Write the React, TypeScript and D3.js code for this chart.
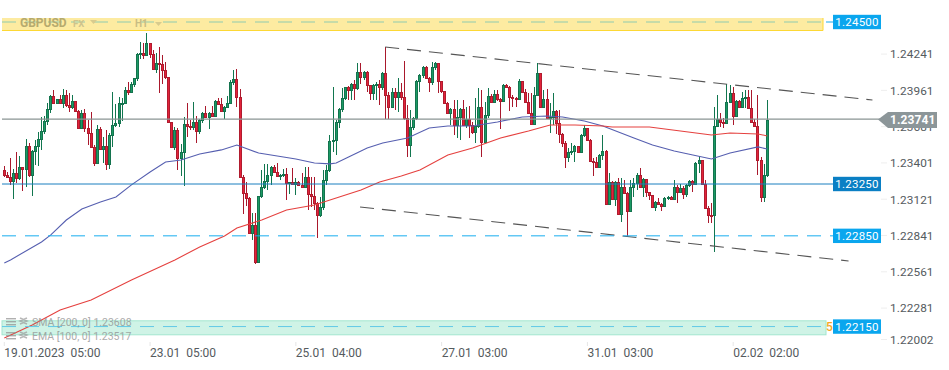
import React from "react";
import * as d3 from "d3";

const firstOpen = 123358;
const closes = [123320,123307,123276,123337,123296,123379,123364,123541,123322,123503,123541,123595,123657,123734,123827,123929,123873,123904,123873,123935,123858,123847,123891,123814,123685,123796,123680,123642,123538,123415,123672,123523,123541,123405,123626,123703,123719,123873,123878,123975,123962,124019,124066,124253,124263,124248,124336,124253,124140,124180,124176,124130,124076,123725,123536,123667,123451,123497,123713,123698,123686,123729,123659,123744,123798,123767,123798,123775,123891,123868,123814,123844,123875,124037,124060,123922,123304,123181,123142,122872,122934,122648,123158,123227,123273,123320,123381,123343,123312,123320,123324,123258,123266,123250,123266,123243,123227,123304,123173,123158,123104,123011,123073,123281,123358,123582,123590,123729,123829,123914,123999,123975,124022,123991,124114,124076,124114,124014,123952,124014,124022,123999,124107,123937,123844,123960,123922,123960,123922,123760,123551,123690,123760,124045,124091,124153,124068,124037,124153,124184,124045,123968,123875,123798,123829,123705,123767,123829,123705,123752,123705,123651,123698,123844,123574,123783,123929,123883,123945,123906,123891,124014,123999,123922,123914,123906,124045,123960,123883,123798,123713,123937,124107,123844,123906,123760,123767,123814,123721,123636,123567,123459,123497,123505,123543,123497,123628,123682,123590,123428,123420,123381,123474,123505,123096,123266,123134,123266,123019,123227,123181,123042,123227,123258,123320,123227,123289,123189,123165,123073,123111,123096,123080,123142,123150,123134,123227,123189,123219,123173,123243,123273,123250,123412,123435,123250,123065,123011,123007,123698,123752,123729,123721,123883,123952,123775,123891,123844,123914,123922,123837,123729,123698,123435,123150,123320,123744];
const highs = [123389,123345,123449,123364,123500,123466,123384,123598,123564,123513,123590,123654,123765,123775,123878,123935,123975,123906,123935,123981,123975,123950,123937,123891,123819,123821,123827,123744,123808,123549,123705,123688,123615,123667,123642,123960,123868,123924,123916,124001,124040,124040,124068,124259,124348,124336,124418,124336,124284,124263,124310,124245,124192,124076,123729,123690,123682,123559,123767,123875,123744,123883,123775,123752,123806,123852,123806,123852,123898,123914,123914,123852,123929,124053,124130,124138,123983,123320,123266,123150,123026,123026,123158,123358,123405,123405,123389,123397,123412,123327,123366,123374,123266,123374,123296,123270,123335,123381,123381,123304,123304,123111,123150,123358,123397,123628,123999,123744,123837,123991,123999,124007,124030,124053,124184,124184,124122,124122,124014,124022,124037,124053,124114,124307,123960,123991,123991,124068,124030,124199,123860,123821,123767,124053,124099,124161,124161,124076,124192,124192,124184,124045,123968,123883,123837,123898,123898,123837,123898,123844,123852,123729,123914,123991,123975,123883,123991,123945,123975,123975,123914,124022,124022,124007,123937,123922,124060,124045,123983,123952,123952,123999,124184,124107,123975,123983,123875,123952,123821,123821,123644,123582,123528,123567,123551,123536,123636,123705,123682,123597,123451,123459,123482,123628,123513,123335,123273,123273,123296,123296,123281,123189,123281,123296,123335,123374,123296,123289,123173,123165,123119,123142,123104,123150,123158,123158,123281,123243,123250,123235,123250,123281,123281,123420,123466,123435,123281,123080,123104,123844,123937,123798,123760,124022,124014,123999,123898,123898,123960,123975,123975,123975,123752,123937,123459,123405,123898];
const lows = [123307,123294,123243,123137,123256,123281,123199,123229,123307,123160,123397,123389,123513,123636,123705,123796,123868,123868,123868,123834,123842,123808,123827,123808,123677,123677,123654,123551,123525,123389,123405,123523,123412,123358,123364,123538,123692,123692,123739,123898,123935,124006,124001,124047,124212,124212,124253,124220,124138,124107,123952,124022,124060,123721,123528,123513,123358,123312,123235,123613,123667,123667,123567,123636,123721,123763,123675,123771,123775,123860,123810,123752,123837,123875,124014,123844,123297,123019,123080,122868,122818,122633,122644,123142,123212,123204,123243,123339,123304,123281,123304,123127,123173,123243,123165,123239,123219,123219,123050,123073,123050,122833,122996,123050,123243,123343,123497,123474,123682,123806,123898,123898,123898,123898,123975,124022,124053,123960,123898,123898,123898,123860,123975,123752,123752,123837,123821,123806,123898,123744,123459,123459,123667,123744,123960,124068,124064,123960,124014,124130,123952,123952,123868,123794,123705,123628,123605,123590,123698,123682,123605,123636,123567,123682,123459,123574,123760,123875,123875,123891,123675,123883,123991,123814,123844,123844,123898,123952,123883,123790,123705,123705,123929,123837,123837,123752,123644,123705,123636,123567,123536,123374,123420,123474,123420,123490,123490,123613,123582,123420,123312,123374,123374,123435,123088,123088,123127,123080,123011,122957,123173,122849,123034,123150,123204,123219,123150,123150,123127,123065,123042,123088,123042,123073,123127,123127,123127,123104,123181,123134,123150,123227,123189,123243,123335,123243,123057,122949,122949,122726,123690,123690,123682,123721,123875,123705,123767,123837,123837,123837,123829,123721,123690,123320,123111,123111,123304];

const emaIdx = [0,2,12,15,20,25,31,36,41,47,52,57,63,70,75,82,88,94,100,105,107,111,117,122,130,137,143,151,159,167,175,180,187,193,203,209,216,222,228,234,243,246];
const emaVals = [122641,122664,122803,122857,122972,123057,123111,123150,123243,123343,123420,123435,123482,123513,123551,123489,123466,123443,123412,123405,123412,123459,123528,123567,123605,123682,123698,123698,123729,123767,123775,123767,123736,123698,123605,123551,123505,123474,123443,123489,123536,123520];
const smaIdx = [0,9,18,28,41,55,63,71,75,83,91,100,108,115,121,128,134,143,151,160,169,176,184,193,196,208,218,228,234,243,246];
const smaVals = [122062,122162,122278,122355,122510,122664,122764,122849,122911,122972,123050,123088,123150,123204,123266,123312,123358,123474,123528,123605,123659,123705,123705,123698,123690,123690,123659,123628,123644,123636,123621];

const upperTrendIdx = [122.8, 279.9];
const upperTrendVals = [124307, 123898];
const lowerTrendIdx = [114.7, 272.2];
const lowerTrendVals = [123073, 122656];

const priceTicks = [124241, 123961, 123681, 123401, 123121, 122841, 122561, 122281, 122002];
const timeTickIdx = [0, 47, 94, 141, 188, 235];
const timeTickLabels = ["19.01.2023  05:00", "23.01  05:00", "25.01  04:00", "27.01  03:00", "31.01  03:00", "02.02  02:00"];

const levelResistance = 124500;
const levelMid = 123250;
const levelSupport = 122850;
const levelBottom = 122150;
const lastPriceLine = 123750;
const lastPriceLabel = "1.23741";

const FONT = "Roboto, sans-serif";
const fmt = (v: number) => (v / 1e5).toFixed(5);

const x = d3.scaleLinear().domain([0, 246]).range([4.3, 767.3]);
const y = d3.scaleLinear().domain([124500, 120000]).range([22, 605.2]);

const toPath = (idx: number[], vals: number[]) =>
  d3.line<number>().x((d) => x(d)).y((_, i) => y(vals[i])).curve(d3.curveLinear)(idx) || "";

function Candles() {
  return (
    <g>
      {closes.map((c, i) => {
        const o = i === 0 ? firstOpen : closes[i - 1];
        const up = c >= o;
        const cx = Math.floor(x(i)) + 0.5;
        const top = Math.round(y(Math.max(o, c)));
        const bot = Math.round(y(Math.min(o, c)));
        return (
          <g key={i}>
            <line x1={cx} x2={cx} y1={y(highs[i])} y2={y(lows[i])} stroke={up ? "#11764f" : "#a9182c"} strokeWidth={1} shapeRendering="crispEdges" />
            <rect x={cx - 1} y={top + 0.5} width={2} height={Math.max(bot - top, 1)} fill={up ? "#1b9a64" : "#e2233a"} stroke={up ? "#14734e" : "#b01b2e"} strokeWidth={1} shapeRendering="crispEdges" />
          </g>
        );
      })}
    </g>
  );
}

function Tag({ value, color, text }: { value: number; color: string; text: string }) {
  const cy = y(value);
  return (
    <g>
      <rect x={833} y={cy - 7.2} width={48} height={14.4} fill={color} />
      <text x={857} y={cy + 4} textAnchor="middle" fill="#fff" fontSize={11.5} letterSpacing={0.25} fontFamily={FONT}>{text}</text>
    </g>
  );
}

function LegendRow({ rowY, label }: { rowY: number; label: string }) {
  return (
    <g opacity={0.7}>
      <rect x={6} y={rowY - 5} width={10} height={1.4} fill="#8f8f8f" />
      <rect x={6} y={rowY - 2} width={10} height={1.4} fill="#8f8f8f" />
      <rect x={6} y={rowY + 1} width={10} height={1.4} fill="#8f8f8f" />
      <path d={`M20 ${rowY - 5}l7 3l-7 3M27 ${rowY - 5}l-7 3l7 3`} stroke="#9a9a9a" strokeWidth={1.5} fill="none" />
      <text x={32} y={rowY + 3} fontSize={10.5} fill="#8a8a8a" fontFamily={FONT} style={{ whiteSpace: "pre" }}>{label}</text>
    </g>
  );
}

export default function App() {
  return (
    <svg width={949} height={370} style={{ position: "absolute", left: 0, top: 0, display: "block", background: "#fff" }} fontFamily={FONT}>
      <rect x={2} y={18} width={821} height={12.8} fill="#fdeba1" />
      <line x1={2} x2={823} y1={30.5} y2={30.5} stroke="#fdd835" strokeWidth={1} />
      <line x1={823} x2={823} y1={18} y2={30.5} stroke="#fdd835" strokeWidth={1} />
      <rect x={2} y={320.8} width={824} height={14} fill="#cff3e6" stroke="#a3e6cf" strokeWidth={1} />

      <Candles />

      <path d={toPath(emaIdx, emaVals)} fill="none" stroke="#565fb0" strokeWidth={1.1} />
      <path d={toPath(smaIdx, smaVals)} fill="none" stroke="#e5413f" strokeWidth={1.1} />

      <path d={toPath(upperTrendIdx, upperTrendVals)} fill="none" stroke="#555" strokeWidth={1.1} strokeDasharray="14 8" />
      <path d={toPath(lowerTrendIdx, lowerTrendVals)} fill="none" stroke="#555" strokeWidth={1.1} strokeDasharray="14 8" />

      <line x1={2} x2={826} y1={y(levelResistance)} y2={y(levelResistance)} stroke="#8fcbb0" strokeWidth={1} strokeDasharray="14 9" />
      <line x1={826} x2={833} y1={y(levelResistance)} y2={y(levelResistance)} stroke="#1aa9ee" strokeWidth={1} />
      <line x1={2} x2={833} y1={y(levelMid)} y2={y(levelMid)} stroke="#1a7fbf" strokeWidth={1} />
      <line x1={2} x2={833} y1={y(levelSupport)} y2={y(levelSupport)} stroke="#18aeef" strokeWidth={1} strokeDasharray="14 9" />
      <line x1={2} x2={826} y1={y(levelBottom)} y2={y(levelBottom)} stroke="#62c9e6" strokeWidth={1} strokeDasharray="14 9" />
      <line x1={2} x2={880} y1={y(lastPriceLine)} y2={y(lastPriceLine)} stroke="#8a9493" strokeWidth={1.2} />

      <text x={20} y={27} fontSize={12} fontWeight={700} fill="#b6aa6e">GBPUSD</text>
      <text x={73} y={27} fontSize={9.5} fontWeight={700} fill="#cfc38c">FX</text>
      <path d="M90 20h7l-3.5 4z" fill="#d8cb8e" />
      <text x={135} y={27} fontSize={10} fontWeight={700} fill="#c8bc84">H1</text>
      <path d="M155 22h7l-3.5 4z" fill="#d8cb8e" />

      <LegendRow rowY={323} label="SMA [200, 0] 1.23608" />
      <LegendRow rowY={337} label="EMA [100, 0] 1.23517" />

      <text x={826} y={331} fontSize={12} fill="#f5a623" fontWeight={500}>5</text>

      {priceTicks.map((t) => {
        const ty = Math.min(y(t) - 1.5, 339.5);
        return (
          <g key={t}>
            <line x1={881} x2={887} y1={ty} y2={ty} stroke="#eeeeee" strokeWidth={1} />
            <text x={890} y={ty + 4.3} fontSize={11.8} fill="#555b5e" letterSpacing={0.1}>{fmt(t)}</text>
          </g>
        );
      })}

      <Tag value={levelResistance} color="#0aa6ee" text={fmt(levelResistance)} />
      <Tag value={levelMid} color="#0a7fc4" text={fmt(levelMid)} />
      <Tag value={levelSupport} color="#0aa6ee" text={fmt(levelSupport)} />
      <Tag value={levelBottom} color="#0aa6ee" text={fmt(levelBottom)} />

      <path d="M878 119.5L888 112H937V128H888Z" fill="#8c9699" />
      <text x={890} y={124.3} fontSize={12} fontWeight={700} fill="#fff" letterSpacing={0.1}>{lastPriceLabel}</text>

      {timeTickIdx.map((t, i) => (
        <g key={t}>
          <line x1={x(t)} x2={x(t)} y1={342} y2={346} stroke="#e6e6e6" strokeWidth={1} />
          <text x={x(t)} y={357} fontSize={12} fill="#555b5e" style={{ whiteSpace: "pre" }}>{timeTickLabels[i]}</text>
        </g>
      ))}
    </svg>
  );
}
